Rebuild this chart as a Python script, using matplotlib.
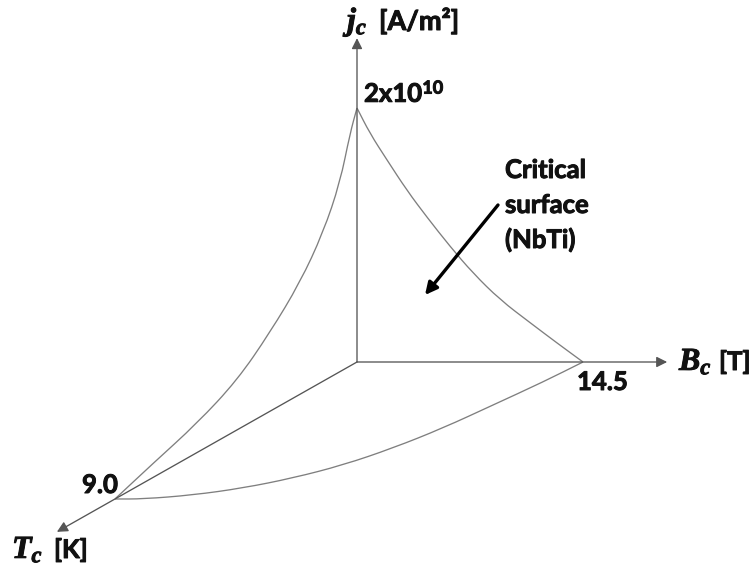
import matplotlib
matplotlib.use("Agg")
import matplotlib.pyplot as plt
import matplotlib.patheffects as pe
from matplotlib.transforms import Affine2D
from matplotlib.path import Path
from matplotlib.patches import PathPatch

plt.rcParams['mathtext.fontset'] = 'custom'
plt.rcParams['mathtext.it'] = 'Liberation Serif:italic:bold'
plt.rcParams['mathtext.rm'] = 'Lato:bold'
plt.rcParams['mathtext.bf'] = 'Lato:bold'

# ---- critical values (NbTi) ----
Tc = 9.0          # K
Bc = 14.5         # T
Jc = 2.0          # x 1e10 A/m^2

# J(B) at T = 0
jb_B = [0.0, 0.83, 1.93, 3.21, 4.49, 5.97, 7.44, 9.18, 11.10, 12.83, 14.5]
jb_J = [2.0, 1.80, 1.59, 1.35, 1.14, 0.91, 0.70, 0.49, 0.31, 0.15, 0.0]

# J(T) at B = 0
jt_T = [0.0, 0.26, 0.63, 1.26, 2.12, 3.24, 4.46, 5.95, 7.59, 9.0]
jt_J = [2.0, 1.83, 1.49, 1.17, 0.88, 0.62, 0.39, 0.23, 0.11, 0.0]

# B(T) at J = 0
bt_B = [14.5, 14.20, 13.60, 13.00, 12.06, 10.78, 9.04, 6.97, 4.55, 1.80, 0.0]
bt_T = [0.0, 1.31, 2.83, 4.34, 5.65, 6.77, 7.62, 8.28, 8.74, 9.0, 9.0]

# axis extents (including arrows)
T_end, B_end, J_end = 11.16, 19.9, 2.55

fig = plt.figure(figsize=(7.53, 5.72), dpi=100)
ax = fig.add_axes([0, 0, 1, 1])
ax.set_xlim(0, 753)
ax.set_ylim(572, 0)
ax.axis('off')

# oblique projection of the three coordinate planes
ox, oy = 357, 362
sB, sJ = 15.586, 127.0
tx, ty = -26.89, 15.22
plane_BJ = Affine2D.from_values(sB, 0, 0, -sJ, ox, oy) + ax.transData
plane_TJ = Affine2D.from_values(tx, ty, 0, -sJ, ox, oy) + ax.transData
plane_BT = Affine2D.from_values(sB, 0, tx, ty, ox, oy) + ax.transData

lc = '#7f7f7f'
lw = 0.95


def smooth_path(xs, ys):
    """Quadratic B-spline path using the read points as control points."""
    pts = list(zip(xs, ys))
    verts = [pts[0]]
    codes = [Path.MOVETO]
    mid = lambda a, b: ((a[0] + b[0]) / 2, (a[1] + b[1]) / 2)
    verts.append(mid(pts[0], pts[1]))
    codes.append(Path.LINETO)
    for i in range(1, len(pts) - 1):
        verts += [pts[i], mid(pts[i], pts[i + 1])]
        codes += [Path.CURVE3, Path.CURVE3]
    verts.append(pts[-1])
    codes.append(Path.LINETO)
    return Path(verts, codes)


for xs, ys, tr in [(jb_B, jb_J, plane_BJ), (jt_T, jt_J, plane_TJ),
                   (bt_B, bt_T, plane_BT)]:
    ax.add_patch(PathPatch(smooth_path(xs, ys), facecolor='none',
                           edgecolor=lc, lw=lw, transform=tr))

# axes with arrows
ap = dict(arrowstyle='-|>', color='#555555', lw=lw, mutation_scale=16,
          shrinkA=0, shrinkB=0)
ax.annotate('', xy=(0, J_end), xytext=(0, 0), xycoords=plane_BJ,
            textcoords=plane_BJ, arrowprops=ap)
ax.annotate('', xy=(B_end, 0), xytext=(0, 0), xycoords=plane_BJ,
            textcoords=plane_BJ, arrowprops=ap)
ax.annotate('', xy=(T_end, 0), xytext=(0, 0), xycoords=plane_TJ,
            textcoords=plane_TJ, arrowprops=ap)

fs = 18.5
bold = [pe.withStroke(linewidth=0.7, foreground='#111111')]
tk = dict(fontfamily='Lato', fontweight='bold', fontsize=fs, color='#111111',
          va='baseline', ha='left', path_effects=bold)
mk = dict(tk, fontsize=23)

ax.text(347, 30, r'$j_c$', **mk)
ax.text(379, 30, '[A/m²]', fontfamily='Lato', fontweight='bold', fontsize=19.5,
        color='#111111', va='baseline', ha='left', path_effects=bold)
ax.text(679, 370, r'$B_c$', **mk)
ax.text(719, 370, '[T]', **tk)
ax.text(12, 558, r'$T_c$', **mk)
ax.text(54, 558, '[K]', **tk)

ax.text(364, 102, r'2x10$^{10}$', **tk)
ax.text(577, 390, f'{Bc:.1f}', **tk)
ax.text(82, 493, f'{Tc:.1f}', **tk)

for s, yb in zip(['Critical', 'surface', '(NbTi)'], [178, 213, 248]):
    ax.text(505, yb, s, **tk)

ax.annotate('', xy=(425, 295), xytext=(498, 205),
            arrowprops=dict(arrowstyle='-|>', color='black', lw=2.4,
                            mutation_scale=18, shrinkA=0, shrinkB=0))

fig.savefig('out.png', dpi=100)
